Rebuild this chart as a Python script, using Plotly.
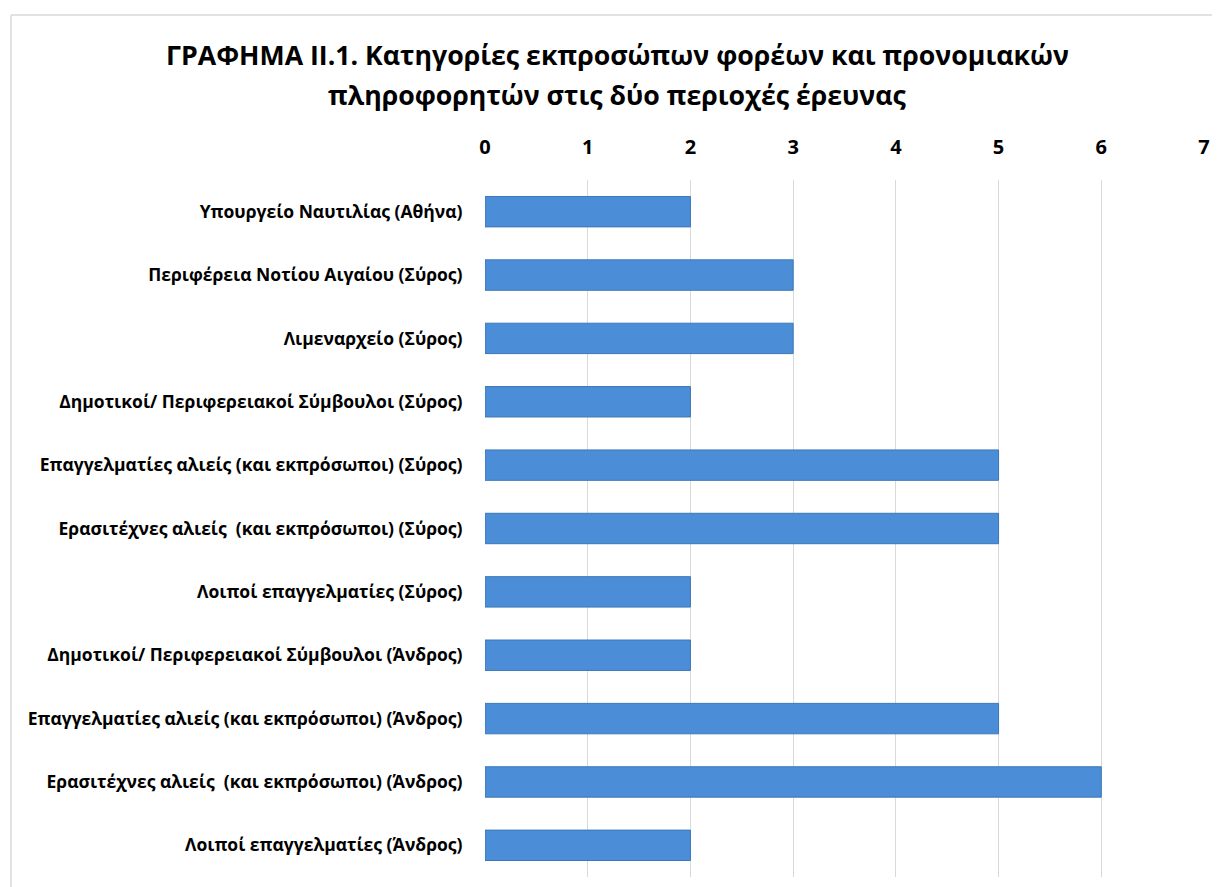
import plotly.graph_objects as go

categories = [
    "Υπουργείο Ναυτιλίας (Αθήνα)",
    "Περιφέρεια Νοτίου Αιγαίου (Σύρος)",
    "Λιμεναρχείο (Σύρος)",
    "Δημοτικοί/ Περιφερειακοί Σύμβουλοι (Σύρος)",
    "Επαγγελματίες αλιείς (και εκπρόσωποι) (Σύρος)",
    "Ερασιτέχνες αλιείς  (και εκπρόσωποι) (Σύρος)",
    "Λοιποί επαγγελματίες (Σύρος)",
    "Δημοτικοί/ Περιφερειακοί Σύμβουλοι (Άνδρος)",
    "Επαγγελματίες αλιείς (και εκπρόσωποι) (Άνδρος)",
    "Ερασιτέχνες αλιείς  (και εκπρόσωποι) (Άνδρος)",
    "Λοιποί επαγγελματίες (Άνδρος)",
]
values = [2, 3, 3, 2, 5, 5, 2, 2, 5, 6, 2]
x_ticks = [0, 1, 2, 3, 4, 5, 6, 7]

title_line1 = "ΓΡΑΦΗΜΑ ΙΙ.1. Κατηγορίες εκπροσώπων φορέων και προνομιακών"
title_line2 = "πληροφορητών στις δύο περιοχές έρευνας"

# figure geometry (page has an 8px body margin)
W, H = 1212, 879
ML, MR, MT, MB = 477, 16, 172, 10
PW, PH = W - ML - MR, H - MT - MB


def px(xf):
    return (xf - ML) / PW


def py(yf):
    return (H - MB - yf) / PH


fig = go.Figure()
fig.add_trace(go.Bar(
    x=values, y=categories, orientation="h",
    width=0.48,
    marker=dict(color="#4b8ed7", line=dict(color="#3a77b8", width=1)),
    showlegend=False,
    hoverinfo="x+y",
))

fig.update_layout(
    width=W, height=H,
    margin=dict(l=ML, r=MR, t=MT, b=MB),
    paper_bgcolor="white", plot_bgcolor="white",
    font=dict(family="Open Sans", color="black"),
)

title_font = dict(family="Open Sans", size=26.7, color="black", weight="bold")
fig.add_annotation(text=title_line1, xref="paper", yref="paper",
                   x=px(609), y=py(47), xanchor="center", yanchor="middle",
                   showarrow=False, font=title_font)
fig.add_annotation(text=title_line2, xref="paper", yref="paper",
                   x=px(609), y=py(87), xanchor="center", yanchor="middle",
                   showarrow=False, font=title_font)

fig.update_xaxes(
    side="top", range=[0, 7], tickvals=x_ticks,
    showgrid=True, gridcolor="#d9d9d9", gridwidth=1,
    zeroline=False, showline=False,
    ticks="outside", ticklen=17, tickcolor="rgba(0,0,0,0)",
    tickfont=dict(family="Open Sans", size=20, color="black", weight="bold"),
)
fig.update_yaxes(
    autorange="reversed", showgrid=False, zeroline=False, showline=False,
    ticks="outside", ticklen=18, tickcolor="rgba(0,0,0,0)",
    tickfont=dict(family="Open Sans", size=17.5, color="black", weight="bold"),
)

# light chart border (top and left edges visible)
fig.add_shape(type="line", xref="paper", yref="paper",
              x0=px(3), x1=px(W + 5), y0=py(7), y1=py(7),
              line=dict(color="#d9d9d9", width=1.5))
fig.add_shape(type="line", xref="paper", yref="paper",
              x0=px(3), x1=px(3), y0=py(H + 5), y1=py(7),
              line=dict(color="#d9d9d9", width=1.5))

fig.write_html("out.html")
